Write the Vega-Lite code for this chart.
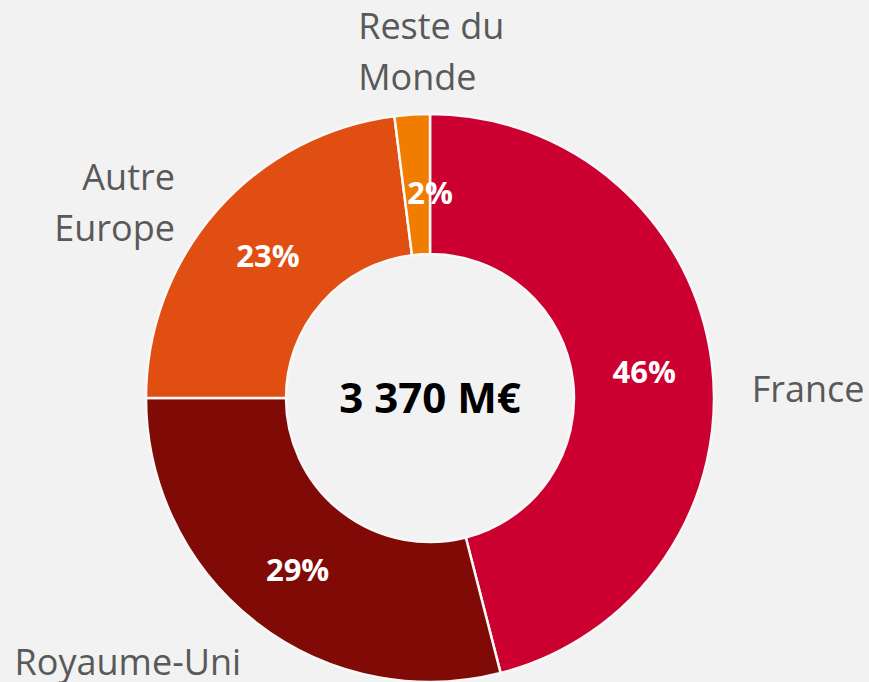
{
  "$schema": "https://vega.github.io/schema/vega-lite/v6.json",
  "width": 860,
  "height": 568,
  "autosize": {"type": "none"},
  "padding": {"left": 0, "top": 114, "right": 9, "bottom": 0},
  "background": "#f2f2f2",
  "config": {"view": {"stroke": null}},
  "datasets": {
    "parts": [
      {"pays": "France", "libelle": "France", "part": 0.46, "rang": 1},
      {"pays": "Royaume-Uni", "libelle": "Royaume-Uni", "part": 0.29, "rang": 2},
      {"pays": "Autre Europe", "libelle": "Autre\nEurope", "part": 0.23, "rang": 3},
      {"pays": "Reste du Monde", "libelle": "Reste du\nMonde", "part": 0.02, "rang": 4}
    ],
    "total": [{"texte": "3 370 M€"}]
  },
  "layer": [
    {
      "data": {"name": "parts"},
      "mark": {"type": "arc", "radius": 284, "innerRadius": 144, "stroke": "#f8f8f8", "strokeWidth": 2.5},
      "encoding": {
        "theta": {"field": "part", "type": "quantitative", "stack": true},
        "order": {"field": "rang", "type": "quantitative"},
        "color": {
          "field": "pays",
          "type": "nominal",
          "scale": {
            "domain": ["France", "Royaume-Uni", "Autre Europe", "Reste du Monde"],
            "range": ["#cc0030", "#800a06", "#e04e12", "#f07c00"]
          },
          "legend": null
        }
      }
    },
    {
      "data": {"name": "parts"},
      "mark": {
        "type": "text",
        "radius": {"expr": "datum.rang == 4 ? 206 : 216"},
        "dx": {"expr": "datum.rang == 4 ? 13 : 0"},
        "dy": 3,
        "font": "Open Sans",
        "fontWeight": "bold",
        "fontSize": 31,
        "align": "center",
        "baseline": "middle"
      },
      "encoding": {
        "theta": {"field": "part", "type": "quantitative", "stack": true},
        "order": {"field": "rang", "type": "quantitative"},
        "text": {"field": "part", "type": "quantitative", "format": ".0%"},
        "color": {"value": "#ffffff"}
      }
    },
    {
      "data": {"name": "parts"},
      "mark": {
        "type": "text",
        "radius": 300,
        "font": "Open Sans",
        "fontSize": 36,
        "lineBreak": "\n",
        "lineHeight": 51,
        "baseline": "alphabetic",
        "align": {"expr": "datum.rang == 1 || datum.rang == 4 ? 'left' : 'right'"},
        "dx": {"expr": "datum.rang == 1 ? 24 : datum.rang == 2 ? -5 : datum.rang == 3 ? -30 : -53"},
        "dy": {"expr": "datum.rang == 1 ? 42 : datum.rang == 2 ? 40 : datum.rang == 3 ? -10 : -60"}
      },
      "encoding": {
        "theta": {"field": "part", "type": "quantitative", "stack": true},
        "order": {"field": "rang", "type": "quantitative"},
        "text": {"field": "libelle", "type": "nominal"},
        "color": {"value": "#595959"}
      }
    },
    {
      "data": {"name": "total"},
      "mark": {
        "type": "text",
        "font": "Open Sans",
        "fontWeight": "bold",
        "fontSize": 42,
        "align": "center",
        "baseline": "middle",
        "dy": 2
      },
      "encoding": {
        "text": {"field": "texte", "type": "nominal"},
        "color": {"value": "#000000"}
      }
    }
  ]
}
